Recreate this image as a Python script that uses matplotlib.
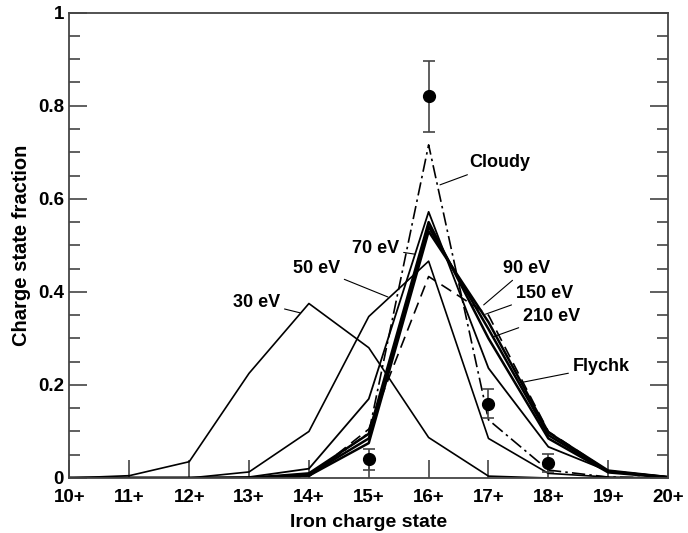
# Iron charge state distributions: model curves vs measured fractions
import numpy as np
import matplotlib.pyplot as plt
from matplotlib.ticker import MultipleLocator, FuncFormatter

plt.rcParams['font.family'] = ['Liberation Sans', 'DejaVu Sans']
plt.rcParams['font.weight'] = 'bold'

charge = np.arange(10, 21)
tick_labels = ['{}+'.format(c) for c in charge]

# model curves (charge states 10+ .. 20+)
ev30 = [0.0, 0.005, 0.035, 0.225, 0.375, 0.28, 0.087, 0.004, 0.0, 0.0, 0.0]
ev50 = [0.0, 0.0, 0.0, 0.013, 0.10, 0.347, 0.466, 0.085, 0.01, 0.002, 0.0]
ev70 = [0.0, 0.0, 0.0, 0.002, 0.02, 0.17, 0.572, 0.236, 0.067, 0.015, 0.002]
ev90 = [0.0, 0.0, 0.0, 0.0, 0.01, 0.095, 0.55, 0.30, 0.085, 0.012, 0.001]
ev150 = [0.0, 0.0, 0.0, 0.0, 0.007, 0.085, 0.54, 0.32, 0.092, 0.014, 0.002]
ev210 = [0.0, 0.0, 0.0, 0.0, 0.005, 0.075, 0.53, 0.335, 0.098, 0.016, 0.002]
cloudy = [0.0, 0.0, 0.0, 0.0, 0.004, 0.097, 0.716, 0.125, 0.017, 0.002, 0.0]
flychk = [0.0, 0.0, 0.0, 0.0, 0.003, 0.105, 0.433, 0.35, 0.10, 0.015, 0.002]

# measured
meas_x = [15, 16, 17, 18]
meas_y = [0.04, 0.82, 0.16, 0.032]
meas_err = [0.022, 0.077, 0.031, 0.02]

fig = plt.figure(figsize=(6.88, 5.33), dpi=100)
ax = fig.add_axes([0.101, 0.1032, 0.870, 0.8730])

ax.plot(charge, ev30, color='k', lw=1.2)
ax.plot(charge, ev50, color='k', lw=1.2)
ax.plot(charge, ev70, color='k', lw=1.3)
ax.plot(charge, ev90, color='k', lw=1.8)
ax.plot(charge, ev150, color='k', lw=1.8)
ax.plot(charge, ev210, color='k', lw=1.8)
ax.plot(charge, cloudy, color='k', lw=1.2, linestyle=(0, (8, 2.5, 1.5, 2.5)))
ax.plot(charge, flychk, color='k', lw=1.2, linestyle=(0, (7, 4)))

ax.errorbar(meas_x, meas_y, yerr=meas_err, fmt='o', color='k', ecolor='#444444',
            markersize=8.5, elinewidth=1.2, capsize=4, capthick=1.2, zorder=5)

# curve labels with pointer lines
labels = [
    ('30 eV', (13.13, 0.378), (13.85, 0.355)),
    ('50 eV', (14.13, 0.451), (15.32, 0.389)),
    ('70 eV', (15.12, 0.494), (15.77, 0.481)),
    ('Cloudy', (17.18, 0.677), (16.19, 0.630)),
    ('90 eV', (17.64, 0.451), (16.92, 0.372)),
    ('150 eV', (17.93, 0.397), (16.95, 0.352)),
    ('210 eV', (18.05, 0.348), (17.07, 0.303)),
    ('Flychk', (18.88, 0.239), (17.58, 0.206)),
]
for txt, xyt, xy in labels:
    ax.annotate(txt, xy=xy, xytext=xyt, ha='center', va='center',
                fontsize=13, fontweight='bold',
                arrowprops=dict(arrowstyle='-', lw=0.8, color='k',
                                shrinkA=1, shrinkB=0))

ax.set_xlim(10, 20)
ax.set_ylim(0, 1)
ax.set_xticks(charge)
ax.set_xticklabels(tick_labels)
ax.yaxis.set_major_locator(MultipleLocator(0.2))
ax.yaxis.set_minor_locator(MultipleLocator(0.05))
ax.yaxis.set_major_formatter(FuncFormatter(lambda v, p: '{:g}'.format(round(v, 2))))

ax.tick_params(axis='both', which='major', direction='in', length=13, width=1.2,
               color='#444444', labelsize=13.5, right=True)
ax.tick_params(axis='y', which='minor', direction='in', length=8, width=1.2,
               color='#444444', right=True)
ax.tick_params(axis='x', pad=8)
ax.tick_params(axis='y', pad=4)
for lab in ax.get_xticklabels() + ax.get_yticklabels():
    lab.set_fontweight('bold')
for sp in ax.spines.values():
    sp.set_color('#444444')
    sp.set_linewidth(1.3)

ax.set_xlabel('Iron charge state', fontsize=14, fontweight='bold', labelpad=6)
ax.set_ylabel('Charge state fraction', fontsize=14.5, fontweight='bold', labelpad=5)

fig.savefig('out.png', dpi=100)
